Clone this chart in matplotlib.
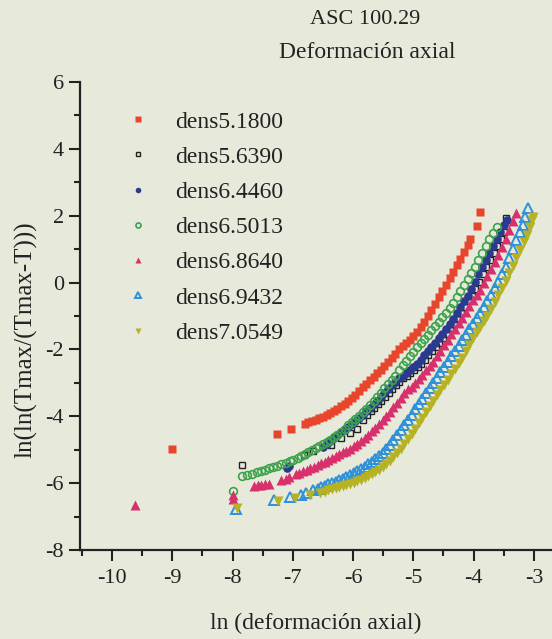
import matplotlib.pyplot as plt
from matplotlib.ticker import MultipleLocator

plt.rcParams['font.family'] = ['Liberation Serif', 'DejaVu Serif']
plt.rcParams['axes.unicode_minus'] = False

labels = ['dens5.1800', 'dens5.6390', 'dens6.4460', 'dens6.5013',
          'dens6.8640', 'dens6.9432', 'dens7.0549']

# dens5.1800
red_x = [-9.01, -7.27, -7.03,
         -6.80, -6.74, -6.68, -6.62, -6.56, -6.50, -6.44, -6.38, -6.32, -6.26,
         -6.20, -6.14, -6.08, -6.02, -5.96, -5.90, -5.84, -5.78, -5.72, -5.66,
         -5.60, -5.54, -5.48, -5.42, -5.36, -5.30, -5.24, -5.18, -5.12, -5.06,
         -5.00, -4.94, -4.88, -4.82, -4.76, -4.70, -4.64, -4.58, -4.52, -4.46,
         -4.40, -4.34, -4.28, -4.22, -4.16, -4.10, -4.06, -3.95, -3.90]
red_y = [-4.97, -4.52, -4.38,
         -4.22, -4.18, -4.14, -4.10, -4.05, -4.01, -3.96, -3.91, -3.85, -3.78,
         -3.70, -3.62, -3.54, -3.45, -3.35, -3.24, -3.13, -3.02, -2.92, -2.82,
         -2.72, -2.61, -2.50, -2.39, -2.27, -2.14, -2.00, -1.91, -1.81, -1.71,
         -1.61, -1.48, -1.33, -1.17, -1.00, -0.82, -0.63, -0.44, -0.25, -0.06,
         0.13, 0.32, 0.52, 0.72, 0.92, 1.12, 1.30, 1.70, 2.12]

# dens5.6390
blk_x = [-7.84, -6.81, -6.66, -6.36, -6.20, -6.05, -5.94,
         -5.83, -5.77, -5.71, -5.65, -5.59, -5.53, -5.47, -5.41, -5.35, -5.29,
         -5.23, -5.17, -5.11, -5.05, -4.99, -4.93, -4.87, -4.81, -4.75, -4.69,
         -4.63, -4.57, -4.51, -4.45, -4.39, -4.33, -4.27, -4.21, -4.15, -4.09,
         -4.03, -3.97, -3.91, -3.85, -3.79, -3.73, -3.67, -3.61, -3.55, -3.49,
         -3.47]
blk_y = [-5.46, -5.16, -5.05, -4.87, -4.66, -4.51, -4.38,
         -4.10, -3.97, -3.85, -3.74, -3.64, -3.53, -3.42, -3.30, -3.19, -3.07,
         -2.96, -2.85, -2.79, -2.71, -2.63, -2.54, -2.44, -2.31, -2.18, -2.05,
         -1.93, -1.80, -1.67, -1.53, -1.39, -1.24, -1.08, -0.91, -0.74, -0.56,
         -0.39, -0.20, 0.02, 0.25, 0.47, 0.68, 0.89, 1.10, 1.31, 1.52,
         1.93]

# dens6.4460
nav_x = [-7.10, -7.06,
         -6.50, -6.44, -6.38, -6.32, -6.26, -6.20, -6.14, -6.08, -6.02, -5.96,
         -5.90, -5.84, -5.78, -5.72, -5.66, -5.60, -5.54, -5.48, -5.42, -5.36,
         -5.30, -5.24, -5.18, -5.12, -5.06, -5.00, -4.94, -4.88, -4.82, -4.76,
         -4.70, -4.64, -4.58, -4.52, -4.46, -4.40, -4.34, -4.28, -4.22, -4.16,
         -4.10, -4.04, -3.98, -3.92, -3.86, -3.80, -3.74, -3.68, -3.62, -3.56,
         -3.50, -3.45]
nav_y = [-5.55, -5.48,
         -4.92, -4.83, -4.75, -4.66, -4.57, -4.48, -4.40, -4.31, -4.23, -4.14,
         -4.04, -3.95, -3.85, -3.74, -3.64, -3.53, -3.42, -3.30, -3.19, -3.07,
         -2.96, -2.85, -2.79, -2.71, -2.63, -2.54, -2.44, -2.31, -2.18, -2.05,
         -1.93, -1.80, -1.67, -1.53, -1.39, -1.24, -1.08, -0.91, -0.74, -0.56,
         -0.39, -0.20, 0.02, 0.25, 0.47, 0.68, 0.89, 1.10, 1.31, 1.52,
         1.72, 1.87]

# dens6.5013
grn_x = [-8.00,
         -7.84, -7.76, -7.68, -7.60, -7.53, -7.46, -7.40, -7.33, -7.27, -7.20,
         -7.12, -7.05, -6.99, -6.92, -6.86, -6.80, -6.74, -6.68, -6.62, -6.56,
         -6.50, -6.44, -6.38, -6.32, -6.26, -6.20, -6.14, -6.08, -6.02, -5.96,
         -5.90, -5.84, -5.78, -5.72, -5.66, -5.60, -5.54, -5.48, -5.42, -5.36,
         -5.30, -5.24, -5.18, -5.12, -5.06, -5.00, -4.94, -4.88, -4.82, -4.76,
         -4.70, -4.64, -4.58, -4.52, -4.46, -4.40, -4.34, -4.28, -4.22, -4.16,
         -4.10, -4.04, -3.98, -3.92, -3.86, -3.80, -3.74, -3.68, -3.62]
grn_y = [-6.24,
         -5.79, -5.76, -5.72, -5.68, -5.64, -5.60, -5.56, -5.52, -5.48, -5.44,
         -5.40, -5.35, -5.30, -5.24, -5.18, -5.13, -5.08, -5.02, -4.96, -4.90,
         -4.84, -4.77, -4.70, -4.63, -4.55, -4.46, -4.37, -4.27, -4.17, -4.08,
         -3.98, -3.87, -3.77, -3.66, -3.54, -3.41, -3.29, -3.16, -3.03, -2.91,
         -2.78, -2.63, -2.48, -2.35, -2.21, -2.07, -1.94, -1.82, -1.69, -1.56,
         -1.43, -1.30, -1.17, -1.04, -0.91, -0.77, -0.60, -0.42, -0.24, -0.06,
         0.12, 0.30, 0.48, 0.67, 0.87, 1.08, 1.29, 1.48, 1.67]

# dens6.8640
mag_x = [-9.61, -8.00, -8.00,
         -7.65, -7.58, -7.52, -7.46, -7.40, -7.19, -7.12, -7.07,
         -6.95, -6.89, -6.83, -6.77, -6.71, -6.65, -6.59, -6.53, -6.47, -6.41,
         -6.35, -6.29, -6.23, -6.17, -6.11, -6.05, -5.99, -5.93, -5.87, -5.81,
         -5.75, -5.69, -5.63, -5.57, -5.51, -5.45, -5.39, -5.33, -5.27, -5.21,
         -5.15, -5.09, -5.03, -4.97, -4.91, -4.85, -4.79, -4.73, -4.67, -4.61,
         -4.55, -4.49, -4.43, -4.37, -4.31, -4.25, -4.19, -4.13, -4.07, -4.01,
         -3.95, -3.89, -3.83, -3.77, -3.71, -3.65, -3.59, -3.53, -3.47, -3.41,
         -3.35, -3.29]
mag_y = [-6.66, -6.36, -6.46,
         -6.09, -6.07, -6.06, -6.04, -6.03, -5.91, -5.87, -5.82,
         -5.73, -5.69, -5.64, -5.60, -5.56, -5.51, -5.47, -5.41, -5.36, -5.31,
         -5.25, -5.20, -5.14, -5.08, -5.03, -4.97, -4.90, -4.82, -4.73, -4.64,
         -4.55, -4.45, -4.34, -4.23, -4.11, -3.99, -3.86, -3.73, -3.59, -3.45,
         -3.30, -3.19, -3.11, -3.00, -2.87, -2.75, -2.62, -2.49, -2.37, -2.21,
         -2.05, -1.88, -1.72, -1.55, -1.39, -1.22, -1.05, -0.87, -0.69, -0.52,
         -0.37, -0.22, -0.02, 0.19, 0.40, 0.61, 0.82, 1.05, 1.31, 1.58,
         1.83, 2.07]

# dens6.9432
blu_x = [-7.94, -7.32, -7.04, -6.87, -6.78, -6.66, -6.59, -6.53,
         -6.47, -6.41, -6.35, -6.29, -6.23, -6.17, -6.11, -6.05, -5.99, -5.93,
         -5.87, -5.81, -5.75, -5.69, -5.63, -5.57, -5.51, -5.45, -5.39, -5.33,
         -5.27, -5.21, -5.15, -5.09, -5.03, -4.97, -4.91, -4.85, -4.79, -4.73,
         -4.67, -4.61, -4.55, -4.49, -4.43, -4.37, -4.31, -4.25, -4.19, -4.13,
         -4.07, -4.01, -3.95, -3.89, -3.83, -3.77, -3.71, -3.65, -3.59, -3.53,
         -3.47, -3.41, -3.35, -3.29, -3.23, -3.18, -3.14, -3.10]
blu_y = [-6.78, -6.51, -6.40, -6.36, -6.30, -6.21, -6.17, -6.12,
         -6.08, -6.04, -6.00, -5.96, -5.92, -5.87, -5.82, -5.76, -5.70, -5.64,
         -5.58, -5.51, -5.44, -5.36, -5.28, -5.20, -5.10, -4.98, -4.85, -4.71,
         -4.56, -4.41, -4.26, -4.11, -3.95, -3.79, -3.63, -3.47, -3.31, -3.16,
         -3.00, -2.85, -2.69, -2.53, -2.37, -2.21, -2.05, -1.89, -1.73, -1.56,
         -1.39, -1.23, -1.06, -0.90, -0.73, -0.55, -0.36, -0.17, 0.03, 0.25,
         0.48, 0.73, 1.00, 1.26, 1.50, 1.72, 1.95, 2.22]

# dens7.0549
yel_x = [-7.93, -7.24, -6.96, -6.71, -6.55,
         -6.47, -6.41, -6.35, -6.29, -6.23, -6.17, -6.11, -6.05, -5.99, -5.93,
         -5.87, -5.81, -5.75, -5.69, -5.63, -5.57, -5.51, -5.45, -5.39, -5.33,
         -5.27, -5.21, -5.15, -5.09, -5.03, -4.97, -4.91, -4.85, -4.79, -4.73,
         -4.67, -4.61, -4.55, -4.49, -4.43, -4.37, -4.31, -4.25, -4.19, -4.13,
         -4.07, -4.01, -3.95, -3.89, -3.83, -3.77, -3.71, -3.65, -3.59, -3.53,
         -3.47, -3.41, -3.35, -3.29, -3.23, -3.17, -3.12, -3.07, -3.03, -3.01]
yel_y = [-6.75, -6.54, -6.45, -6.36, -6.30,
         -6.25, -6.21, -6.18, -6.15, -6.12, -6.10, -6.07, -6.03, -5.99, -5.95,
         -5.91, -5.86, -5.80, -5.74, -5.68, -5.60, -5.52, -5.43, -5.33, -5.22,
         -5.10, -4.97, -4.83, -4.69, -4.53, -4.37, -4.21, -4.04, -3.87, -3.70,
         -3.53, -3.36, -3.20, -3.05, -2.90, -2.74, -2.58, -2.42, -2.25, -2.06,
         -1.86, -1.67, -1.49, -1.32, -1.15, -0.99, -0.80, -0.58, -0.36, -0.15,
         0.06, 0.28, 0.50, 0.73, 0.97, 1.20, 1.42, 1.67, 1.86, 1.97]

bg = '#e7eadb'
ink = '#222222'
fig = plt.figure(figsize=(5.52, 6.39), dpi=100, facecolor=bg)
ax = fig.add_axes([80 / 552, 89 / 639, 472 / 552, 468 / 639])
ax.set_facecolor(bg)

ax.plot(red_x, red_y, 's', color='#e8462c', ms=5.8, mec='none', label=labels[0])
ax.plot(blk_x, blk_y, 's', color='#222222', mfc='none', mew=1.0, ms=4.6, label=labels[1])
ax.plot(nav_x, nav_y, 'o', color='#2b3a8f', ms=6.2, mec='none', label=labels[2])
ax.plot(grn_x, grn_y, 'o', color='#3ea24c', mfc='none', mew=1.2, ms=5.6, label=labels[3])
ax.plot(mag_x, mag_y, '^', color='#d7306c', ms=7.6, mec='none', label=labels[4])
ax.plot(blu_x, blu_y, '^', color='#2e90d8', mfc='none', mew=1.4, ms=7.0, label=labels[5])
ax.plot(yel_x, yel_y, 'v', color='#b7b224', ms=7.6, mec='none', label=labels[6])

ax.set_xlim(-10.53, -2.70)
ax.set_ylim(-8, 6)
ax.xaxis.set_major_locator(MultipleLocator(1))
ax.xaxis.set_minor_locator(MultipleLocator(0.5))
ax.yaxis.set_major_locator(MultipleLocator(2))
ax.yaxis.set_minor_locator(MultipleLocator(1))
ax.spines['top'].set_visible(False)
ax.spines['right'].set_visible(False)
ax.spines['left'].set_linewidth(1.6)
ax.spines['bottom'].set_linewidth(1.6)
ax.spines['left'].set_color(ink)
ax.spines['bottom'].set_color(ink)
ax.tick_params(which='major', length=8, width=1.5, labelsize=16, color=ink, labelcolor=ink)
ax.tick_params(which='minor', length=4, width=1.5, color=ink)
ax.tick_params(axis='x', which='major', pad=6)
ax.tick_params(axis='y', which='major', pad=3.5)

ax.set_xlabel('ln (deformación axial)', fontsize=17, color=ink)
ax.set_ylabel('ln(ln(Tmax/(Tmax-T)))', fontsize=18, color=ink)
ax.xaxis.set_label_coords(0.5, -0.135)
ax.yaxis.set_label_coords(-0.091, 0.449)

fig.text(365 / 552, 1 - 20 / 639, 'ASC 100.29', ha='center', va='center', fontsize=16, color=ink)
fig.text(367 / 552, 1 - 53 / 639, 'Deformación axial', ha='center', va='center', fontsize=17, color=ink)

leg = ax.legend(loc='upper left', bbox_to_anchor=(126 / 552, 1 - 111 / 639),
                bbox_transform=fig.transFigure, frameon=False, fontsize=17,
                handlelength=1.0, handletextpad=1.07, labelspacing=0.58,
                borderpad=0, borderaxespad=0, markerscale=0.65)
for t in leg.get_texts():
    t.set_color(ink)

plt.savefig('out.png', dpi=100, facecolor=bg)
